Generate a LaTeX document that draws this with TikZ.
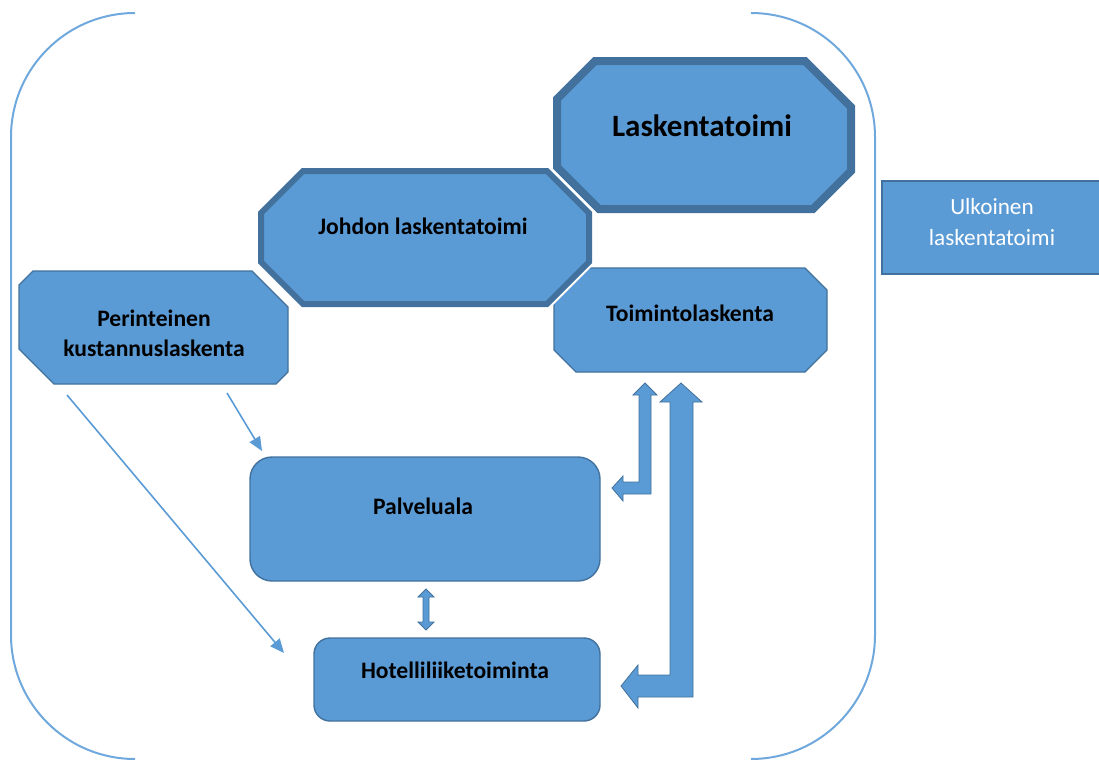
\documentclass[tikz,border=0pt]{standalone}
\usepackage{fontspec}
\setmainfont{Carlito}
\usetikzlibrary{arrows.meta}
\definecolor{boxfill}{HTML}{5B9BD5}
\definecolor{boxline}{HTML}{41719C}
\definecolor{frameline}{HTML}{6FA8DC}
% x1 y1 x2 y2 chamfer-tl tr br bl style
\newcommand{\octbox}[9]{\draw[#9] ({#1+#5},#2) -- ({#3-#6},#2) -- (#3,{#2+#6}) -- (#3,{#4-#7}) -- ({#3-#7},#4) -- ({#1+#8},#4) -- (#1,{#4-#8}) -- (#1,{#2+#5}) -- cycle;}
\tikzset{
  thickbox/.style={preaction={draw=white, line width=6pt}, fill=boxfill, draw=boxline, line width=4pt, line join=miter},
  medbox/.style={preaction={draw=white, line width=5pt}, fill=boxfill, draw=boxline, line width=3pt, line join=miter},
  thinbox/.style={fill=boxfill, draw=boxline, line width=0.7pt},
  glowbox/.style={preaction={draw=white, line width=2.5pt}, thinbox},
  lbl/.style={inner sep=0pt, align=center, font=\bfseries\fontsize{11.8}{15}\selectfont},
  framestyle/.style={draw=frameline, line width=1pt},
  conn/.style={draw=boxfill, line width=0.8pt, -{Triangle[length=7pt,width=6pt]}},
  blockarrow/.style={fill=boxfill, draw=boxline, line width=0.4pt, line join=miter}
}
\begin{document}
\begin{tikzpicture}[x=0.5pt,y=-0.5pt]
\useasboundingbox (0,0) rectangle (1099,760);
% frame
\draw[framestyle] (135,13) arc[start angle=-90, end angle=-180, radius=124] -- (11,635) arc[start angle=180, end angle=90, radius=124];
\draw[framestyle] (751,13) arc[start angle=-90, end angle=0, radius=124] -- (875,635) arc[start angle=0, end angle=90, radius=124];
% boxes
\octbox{554}{268}{827}{372}{22}{22}{22}{22}{glowbox}
\octbox{19}{271}{288}{384}{14}{36}{12}{35}{glowbox}
\octbox{261}{171}{589}{304}{42}{42}{42}{42}{medbox}
\octbox{557}{61}{851}{209}{38}{46}{38}{42}{thickbox}
\draw[thinbox, rounded corners=11pt] (250,457) rectangle (600,581);
\draw[thinbox, rounded corners=8pt] (314,638) rectangle (600,721);
\draw[thinbox] (882,181) rectangle (1103,274);
% labels
\node[lbl, font=\bfseries\fontsize{15.5}{18}\selectfont] (lask) at (702,126) {Laskentatoimi};
\node[lbl] (johdon) at (423,226) {Johdon laskentatoimi};
\node[lbl] (perint) at (154,333) {Perinteinen\\kustannuslaskenta};
\node[lbl] (toim) at (690,313) {Toimintolaskenta};
\node[lbl] (palv) at (423,506) {Palveluala};
\node[lbl] (hotel) at (455,670) {Hotelliliiketoiminta};
\node[lbl, font=\fontsize{11.6}{15.5}\selectfont, text=white] (ulk) at (992,222) {Ulkoinen\\laskentatoimi};
% thin connectors
\coordinate (c1s) at (227,393);
\coordinate (c1e) at (262,451);
\coordinate (c2s) at (67,395);
\coordinate (c2e) at (284,653);
\draw[conn] (c1s) -- (c1e);
\draw[conn] (c2s) -- (c2e);
% double arrow between Palveluala and Hotelliliiketoiminta
\draw[blockarrow] (426,589) -- (434,597) -- (429,597) -- (429,622) -- (434,622) -- (426,630) -- (418,622) -- (423,622) -- (423,597) -- (418,597) -- cycle;
% small bent arrow
\draw[blockarrow] (645,383) -- (657,395) -- (651,395) -- (651,494) -- (623,494) -- (623,501) -- (612,488) -- (623,476) -- (623,482) -- (639,482) -- (639,395) -- (633,395) -- cycle;
% large bent arrow
\draw[blockarrow] (681,383) -- (702,402) -- (693,402) -- (693,697) -- (638,697) -- (638,708) -- (621,686) -- (638,665) -- (638,675) -- (670,675) -- (670,402) -- (660,402) -- cycle;
\end{tikzpicture}
\end{document}
